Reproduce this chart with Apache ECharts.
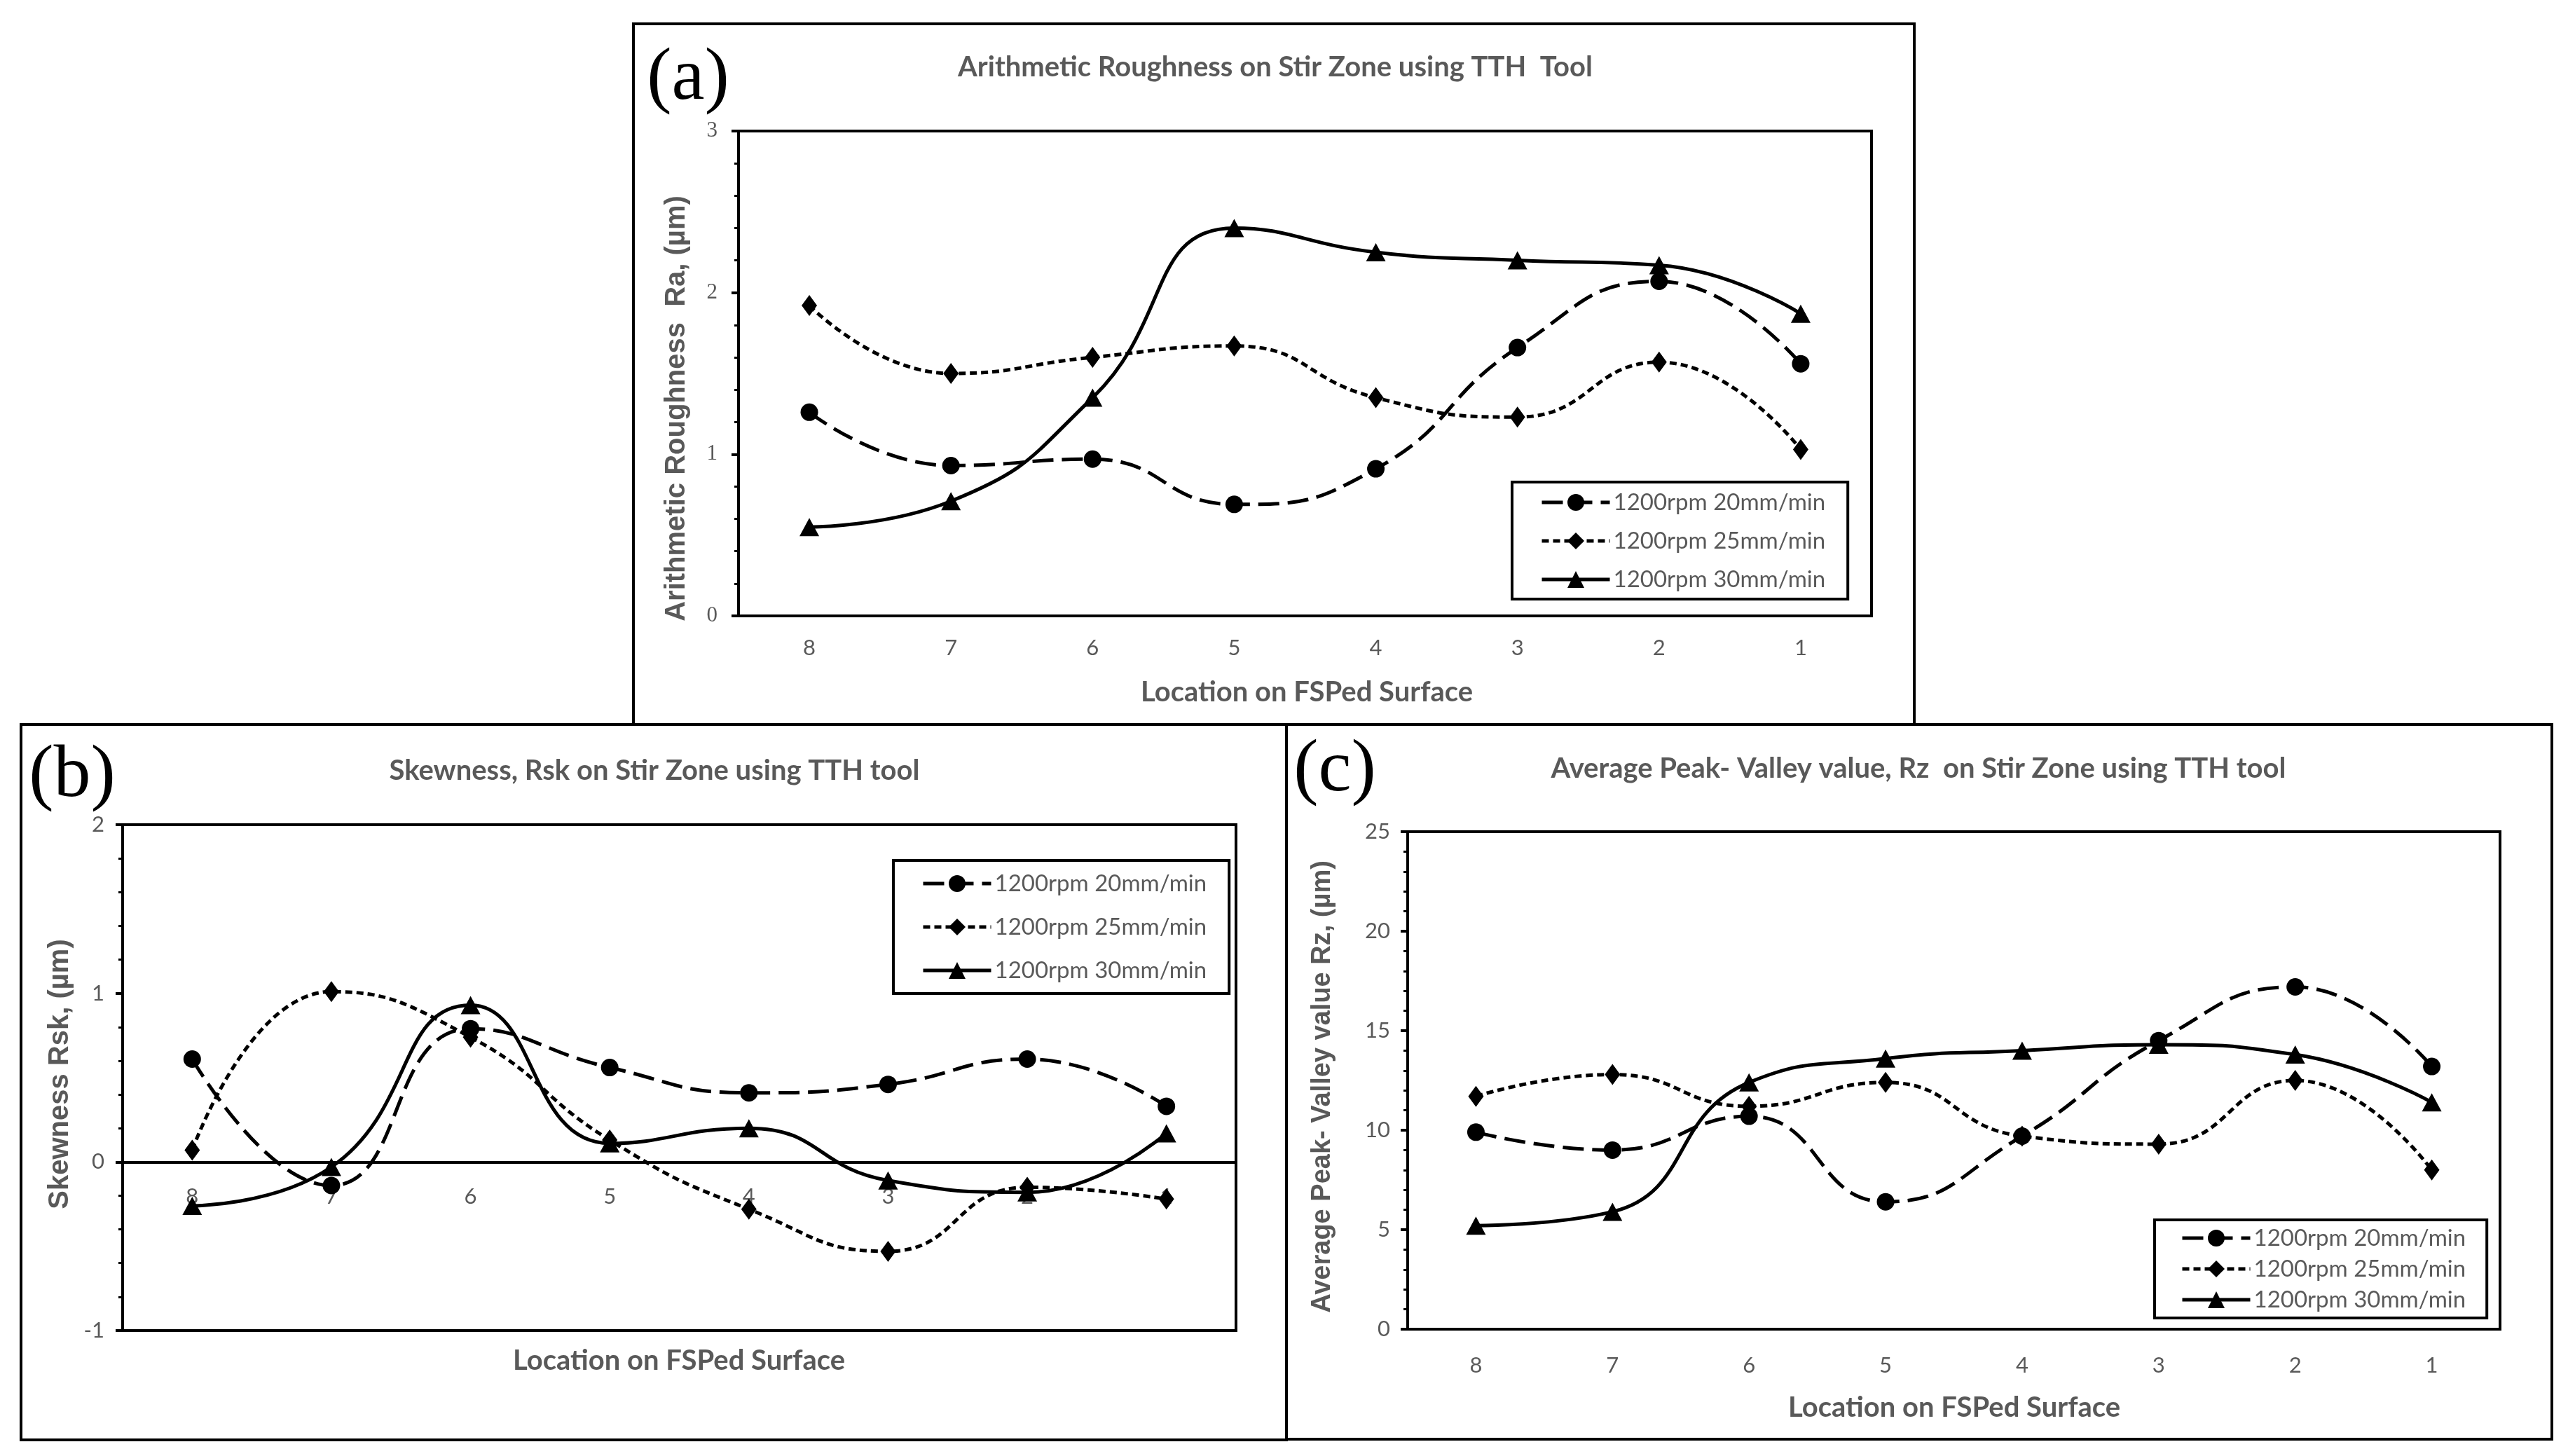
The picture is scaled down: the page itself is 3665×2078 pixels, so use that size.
<!DOCTYPE html>
<html>
<head>
<meta charset="utf-8">
<script src="https://cdn.jsdelivr.net/npm/echarts@6/dist/echarts.min.js"></script>
<style>
  html, body { margin: 0; padding: 0; background: #fff; }
  #chart { width: 3665px; height: 2078px; }
</style>
</head>
<body>
<div id="chart"></div>
<script>
// x 轴：表面位置（从 8 到 1）
const LOCATIONS = ["8", "7", "6", "5", "4", "3", "2", "1"];
const SERIES_NAMES = ["1200rpm 20mm/min", "1200rpm 25mm/min", "1200rpm 30mm/min"];

// (a) Arithmetic roughness Ra
const RA_20 = [1.26, 0.93, 0.97, 0.69, 0.91, 1.66, 2.07, 1.56];
const RA_25 = [1.92, 1.50, 1.60, 1.67, 1.35, 1.23, 1.57, 1.03];
const RA_30 = [0.55, 0.71, 1.35, 2.40, 2.25, 2.20, 2.17, 1.87];

// (b) Skewness Rsk
const RSK_20 = [0.61, -0.14, 0.79, 0.56, 0.41, 0.46, 0.61, 0.33];
const RSK_25 = [0.07, 1.01, 0.74, 0.13, -0.28, -0.53, -0.15, -0.22];
const RSK_30 = [-0.26, -0.03, 0.93, 0.11, 0.20, -0.11, -0.18, 0.17];

// (c) Average peak-valley Rz
const RZ_20 = [9.9, 9.0, 10.7, 6.4, 9.7, 14.5, 17.2, 13.2];
const RZ_25 = [11.7, 12.8, 11.2, 12.4, 9.7, 9.3, 12.5, 8.0];
const RZ_30 = [5.2, 5.9, 12.4, 13.6, 14.0, 14.3, 13.8, 11.4];

const GRAY = "#595959";
const SANS = "Lato, 'Liberation Sans', sans-serif";
const ARIAL = "'Liberation Sans', Arial, sans-serif";
const SERIF = "'Liberation Serif', 'Times New Roman', serif";

// 三条线的样式：长虚线+圆点 / 短虚线+菱形 / 实线+三角
const LINE_LOOKS = [
  { dash: [30, 12], symbol: "circle", size: 25 },
  { dash: [10, 6], symbol: "diamond", size: [22, 30] },
  { dash: "solid", symbol: "triangle", size: [28, 26] },
];

// (b) 图的 x 轴放在 y=0 处
const RSK_MIN = -1, RSK_MAX = 2;
const GRID_B = { left: 175, top: 1177, width: 1589, height: 722 };

function makeXAxis(gridIndex, extra) {
  return Object.assign({
    type: "category",
    gridIndex,
    data: LOCATIONS,
    boundaryGap: true,
    axisLine: { onZero: false, lineStyle: { color: "#000", width: 4 } },
    axisTick: { alignWithLabel: true, length: 10, lineStyle: { color: "#000", width: 4 } },
    axisLabel: { color: GRAY, fontFamily: SANS, fontSize: 31, margin: 30 },
    splitLine: { show: false },
  }, extra);
}

function makeYAxis(gridIndex, min, max, interval, font, margin) {
  return {
    type: "value",
    gridIndex, min, max, interval,
    axisLine: { show: true, lineStyle: { color: "#000", width: 4 } },
    axisTick: { show: true, length: 10, lineStyle: { color: "#000", width: 4 } },
    minorTick: { show: true, splitNumber: 5, length: 6, lineStyle: { color: "#000", width: 3 } },
    splitLine: { show: false },
    axisLabel: { color: GRAY, fontFamily: font, fontSize: 31, margin },
  };
}

function makeSeries(idx, data, axisIndex) {
  const look = LINE_LOOKS[idx];
  return {
    name: SERIES_NAMES[idx],
    type: "line",
    xAxisIndex: axisIndex,
    yAxisIndex: axisIndex,
    data,
    smooth: 0.5,
    symbol: look.symbol,
    symbolSize: look.size,
    itemStyle: { color: "#000" },
    lineStyle: { color: "#000", width: 5, type: look.dash },
    z: 3 - idx,
  };
}

function makeLegend(left, top, itemGap, padding) {
  return {
    data: SERIES_NAMES,
    orient: "vertical",
    left, top, itemGap, padding,
    itemWidth: 97,
    itemHeight: 30,
    backgroundColor: "#fff",
    borderColor: "#000",
    borderWidth: 4,
    borderRadius: 0,
    selectedMode: false,
    lineStyle: { width: 5 },
    textStyle: { color: GRAY, fontFamily: SANS, fontSize: 33, lineHeight: 34 },
  };
}

function frame(x, y, w, h) {
  return { type: "rect", shape: { x, y, width: w, height: h }, style: { fill: "none", stroke: "#000", lineWidth: 4 }, z: 10 };
}

function label(text, x, y, font, size, weight, color, rotation) {
  return {
    type: "text", x, y, rotation: rotation || 0, z: 10,
    style: {
      text, fill: color, fontFamily: font, fontSize: size, fontWeight: weight,
      align: "center", verticalAlign: "middle",
      textAlign: "center", textVerticalAlign: "middle",
    },
  };
}

const chart = echarts.init(document.getElementById("chart"), null, { renderer: "canvas" });

chart.setOption({
  animation: false,
  backgroundColor: "#fff",
  grid: [
    { left: 1054, top: 187, width: 1617, height: 692, show: true, borderColor: "#000", borderWidth: 4 },
    Object.assign({ show: true, borderColor: "#000", borderWidth: 4 }, GRID_B),
    { left: 2009, top: 1187, width: 1559, height: 710, show: true, borderColor: "#000", borderWidth: 4 },
  ],
  xAxis: [
    makeXAxis(0),
    makeXAxis(1, {
      offset: -GRID_B.height * (0 - RSK_MIN) / (RSK_MAX - RSK_MIN),
      axisTick: { show: false },
      axisLabel: { color: GRAY, fontFamily: SANS, fontSize: 31, margin: 34 },
    }),
    makeXAxis(2, { axisLabel: { color: GRAY, fontFamily: SANS, fontSize: 31, margin: 36 } }),
  ],
  yAxis: [
    makeYAxis(0, 0, 3, 1, SERIF, 30),
    makeYAxis(1, RSK_MIN, RSK_MAX, 1, SANS, 26),
    makeYAxis(2, 0, 25, 5, SANS, 25),
  ],
  legend: [
    makeLegend(2158, 688, 21, [12, 32, 11, 40]),
    makeLegend(1275, 1228, 28, [16, 32, 16, 40]),
    makeLegend(3075, 1741, 10, [9, 30, 9, 37]),
  ],
  series: [
    makeSeries(0, RA_20, 0), makeSeries(1, RA_25, 0), makeSeries(2, RA_30, 0),
    makeSeries(0, RSK_20, 1), makeSeries(1, RSK_25, 1), makeSeries(2, RSK_30, 1),
    makeSeries(0, RZ_20, 2), makeSeries(1, RZ_25, 2), makeSeries(2, RZ_30, 2),
  ],
  graphic: [
    frame(904, 34, 1828, 1000),
    frame(30, 1034, 1806, 1021),
    frame(1836, 1034, 1806, 1020),
    // 面板编号
    label("(a)", 982, 113, SERIF, 106, "normal", "#000"),
    label("(b)", 103, 1108, SERIF, 106, "normal", "#000"),
    label("(c)", 1905, 1100, SERIF, 106, "normal", "#000"),
    // 标题
    label("Arithmetic Roughness on Stir Zone using TTH  Tool", 1820, 96, SANS, 40, "bold", GRAY),
    label("Skewness, Rsk on Stir Zone using TTH tool", 934, 1100, SANS, 40, "bold", GRAY),
    label("Average Peak- Valley value, Rz  on Stir Zone using TTH tool", 2738, 1097, SANS, 40, "bold", GRAY),
    // x 轴标题
    label("Location on FSPed Surface", 1865, 988, SANS, 40, "bold", GRAY),
    label("Location on FSPed Surface", 969, 1942, SANS, 40, "bold", GRAY),
    label("Location on FSPed Surface", 2789, 2009, SANS, 40, "bold", GRAY),
    // y 轴标题
    label("Arithmetic Roughness  Ra, (µm)", 966, 583, ARIAL, 40, "bold", GRAY, Math.PI / 2),
    label("Skewness Rsk, (µm)", 86, 1533, ARIAL, 40, "bold", GRAY, Math.PI / 2),
    label("Average Peak- Valley value Rz, (µm)", 1888, 1551, ARIAL, 38, "bold", GRAY, Math.PI / 2),
  ],
});

window.addEventListener("resize", () => chart.resize());
</script>
</body>
</html>
